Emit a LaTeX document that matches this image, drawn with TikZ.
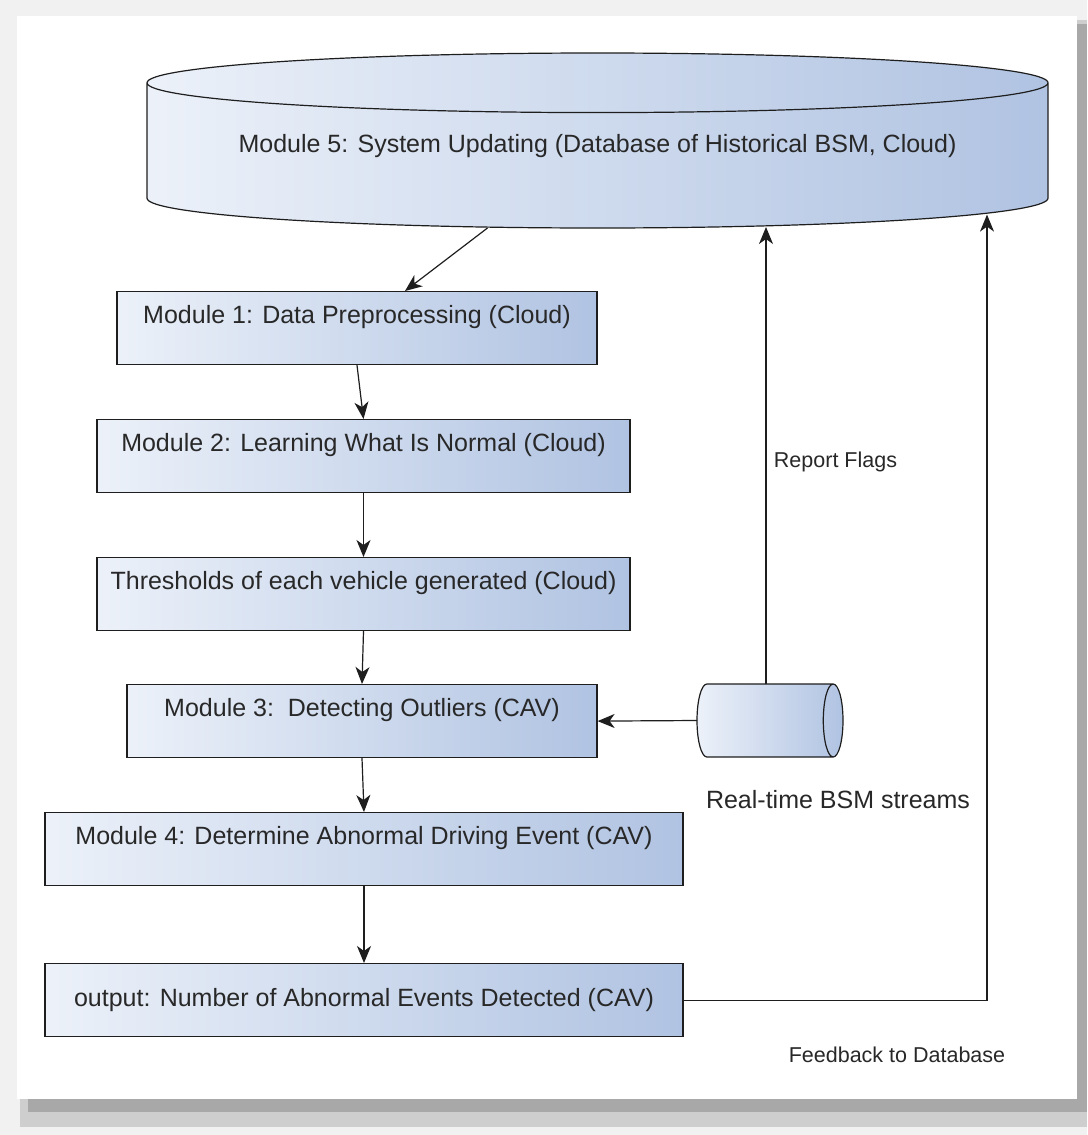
\documentclass[tikz,border=0pt]{standalone}
\usepackage{fontspec}
\setmainfont{Liberation Sans}
\usetikzlibrary{arrows.meta,positioning,shapes.geometric}
\definecolor{boxl}{RGB}{236,241,249}
\definecolor{boxr}{RGB}{176,195,226}
\definecolor{edgec}{RGB}{30,30,30}
\definecolor{txtc}{RGB}{40,40,40}
\definecolor{rimc}{RGB}{241,241,241}
\definecolor{shdc}{RGB}{168,168,168}
\definecolor{shdl}{RGB}{206,206,206}

\begin{document}
\begin{tikzpicture}[
  x=1pt, y=-1pt,
  font=\fontsize{25}{30}\selectfont, text=txtc,
  mod/.style={rectangle, draw=edgec, line width=1.2pt, left color=boxl, right color=boxr,
              minimum height=73pt, inner xsep=0pt, inner ysep=0pt,
              text height=31.5pt, text depth=41.5pt, anchor=north},
  outbox/.style={mod, text height=, text depth=},
  db/.style={cylinder, shape border rotate=90, aspect=0.083, draw=edgec, line width=1.2pt,
             left color=boxl, right color=boxr, minimum width=901pt, minimum height=175pt,
             text height=18.5pt, text depth=25.5pt,
             inner sep=0pt, outer sep=0pt, anchor=shape center},
  pipe/.style={cylinder, aspect=0.27, draw=edgec, line width=1.2pt,
               left color=boxl, right color=boxr, minimum width=73pt, minimum height=146pt,
               text height=36.5pt, text depth=36.5pt,
               inner sep=0pt, outer sep=0pt, anchor=shape center},
  arr/.style={draw=edgec, line width=1.2pt, -{Stealth[length=17pt,width=14pt,inset=5pt]}},
  lbl/.style={font=\fontsize{21.5}{26}\selectfont, inner sep=0pt},
]
\useasboundingbox (0,0) rectangle (1087,1135);

% ---------------- frame with drop shadow ----------------
\fill[rimc] (0,0) rectangle (1087,1135);
\fill[shdl] (20,20) rectangle (1087,1127);
\fill[shdc] (28,24) rectangle (1087,1112);
\fill[white] (17,16) rectangle (1077,1099);

% ---------------- database on top ----------------
\node[db] (db) at (597.5,140.5) {Module 5: System Updating (Database of Historical BSM, Cloud)};

% ---------------- module chain ----------------
\node[mod, minimum width=480pt] (m1)  at (357,291)   {Module 1: Data Preprocessing (Cloud)};
\node[mod, minimum width=533pt] (m2)  at (363.5,419) {Module 2: Learning What Is Normal (Cloud)};
\node[mod, minimum width=533pt] (thr) at (363.5,557) {Thresholds of each vehicle generated (Cloud)};
\node[mod, minimum width=470pt] (m3)  at (362,684)   {Module 3:\ \ Detecting Outliers (CAV)};
\node[mod, minimum width=638pt] (m4)  at (364,812)   {Module 4: Determine Abnormal Driving Event (CAV)};
\node[outbox, minimum width=638pt] (out) at (364,963) {output: Number of Abnormal Events Detected (CAV)};

% ---------------- real-time stream ----------------
\node[pipe] (pipe) at (770,720.5) {};
\node[inner sep=0pt] (rts) at (838,800) {Real-time BSM streams};

% points where the upward arrows meet the database rim
\coordinate (rfin) at (766,227);
\coordinate (fbin) at (987,214.6);

% flow
\draw[arr] ([xshift=-110pt]db.south) -- ([xshift=48pt]m1.north);
\draw[arr] (m1.south) -- (m2.north);
\draw[arr] (m2.south) -- (thr.north);
\draw[arr] (thr.south) -- (m3.north);
\draw[arr] (m3.south) -- (m4.north);
\draw[arr] (m4.south) -- (out.north);

% stream into detection, flags back up
\draw[arr] (pipe.west) -- (m3.east);
\draw[arr] (pipe.north -| rfin) -- (rfin);
\node[lbl] (rfl) at (835.5,462) {Report Flags};

% feedback to the database
\draw[arr] (out.east) -| (fbin);
\node[lbl] (fbl) at (897,1055) {Feedback to Database};

\end{tikzpicture}
\end{document}
